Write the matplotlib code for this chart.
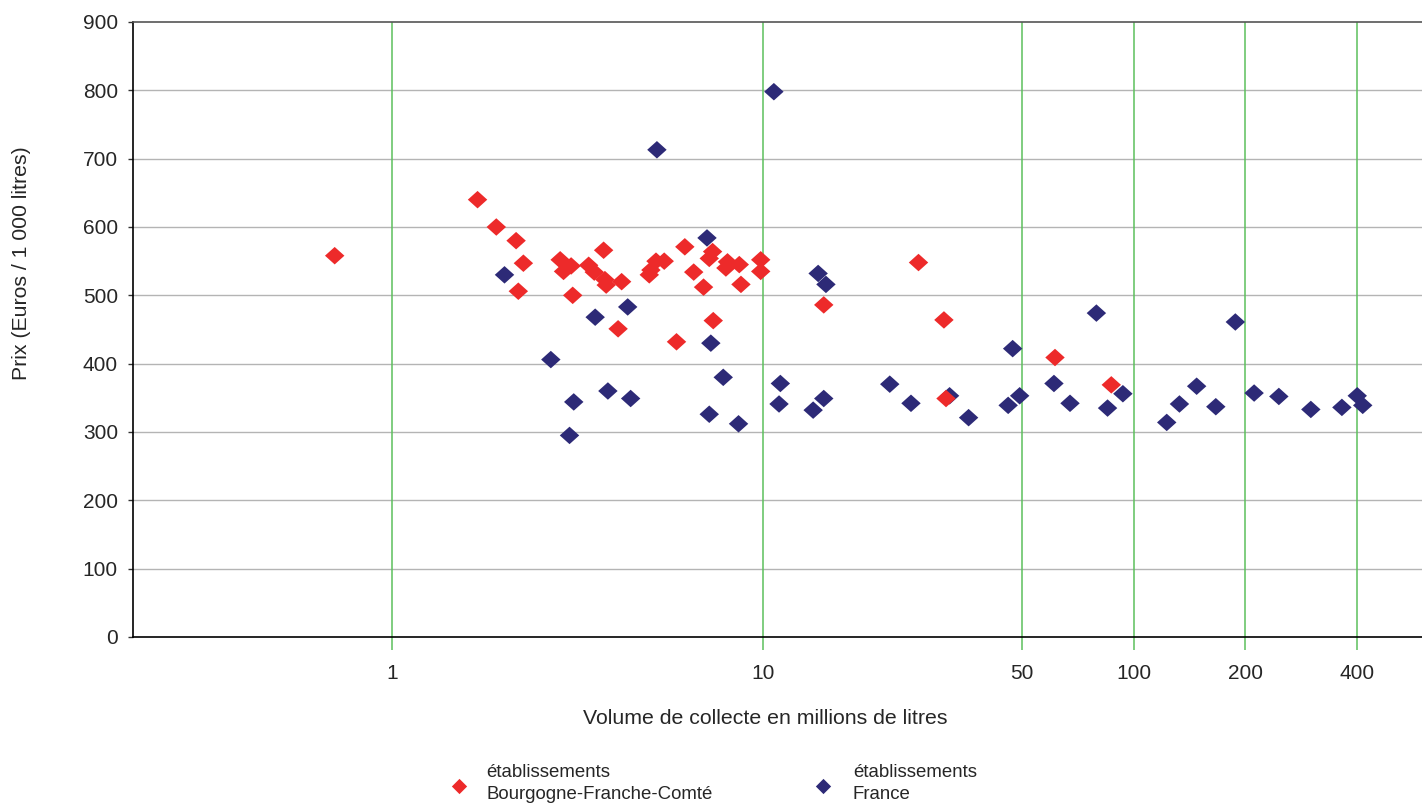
import matplotlib
matplotlib.use("Agg")
import matplotlib.pyplot as plt
from matplotlib.lines import Line2D
from matplotlib.ticker import FixedLocator, FixedFormatter, NullLocator

plt.rcParams['font.family'] = ['Liberation Sans', 'DejaVu Sans']

# ---- data ----
bfc_volume = [0.70, 1.70, 1.91, 2.16, 2.26, 2.19, 2.84, 3.04, 2.90, 3.07,
              3.39, 3.51, 3.72, 3.75, 3.78, 4.16, 4.07, 5.15, 5.42, 4.99,
              4.94, 6.16, 6.51, 7.32, 7.17, 6.92, 8.03, 7.95, 8.64, 8.73,
              9.87, 9.87, 7.35, 5.85, 14.6, 26.3, 30.8, 31.2, 61.4, 87.1]
bfc_price = [558, 640, 600, 580, 547, 506, 552, 543, 535, 500,
             544, 534, 566, 523, 515, 520, 451, 550, 550, 537,
             530, 571, 534, 564, 554, 512, 549, 540, 545, 516,
             552, 535, 463, 432, 486, 548, 464, 349, 409, 369]

fr_volume = [7.07, 2.01, 4.32, 3.53, 2.68, 7.24, 7.82, 11.15, 11.06, 3.09,
             3.82, 4.40, 7.17, 8.60, 3.01, 5.18, 10.71, 14.10, 14.80, 13.67,
             14.60, 22.0, 25.1, 31.9, 35.9, 45.9, 49.3, 47.2, 61.0, 67.4,
             85.1, 93.6, 79.4, 122.9, 133.0, 148.0, 166.7, 188.2, 211.5, 246.6,
             300.8, 364.8, 401.3, 415.2]
fr_price = [584, 530, 483, 468, 406, 430, 380, 371, 341, 344,
            360, 349, 326, 312, 295, 713, 798, 532, 516, 332,
            349, 370, 342, 353, 321, 339, 353, 422, 371, 342,
            335, 356, 474, 314, 341, 367, 337, 461, 357, 352,
            333, 336, 353, 339]

x_ticks = [1, 10, 50, 100, 200, 400]
x_ticklabels = ["1", "10", "50", "100", "200", "400"]
y_ticks = [0, 100, 200, 300, 400, 500, 600, 700, 800, 900]

legend_labels = ["établissements\nBourgogne-Franche-Comté", "établissements\nFrance"]

RED = '#ED2A2A'
BLUE = '#2D2A77'
GREEN = '#5CC05C'
GRID = '#B4B4B4'
TXT = '#262626'
FS_TICK = 15
FS_LABEL = 15.3
FS_LEG = 13.4

diamond = [(-1.0, 0.0), (0.0, 0.9), (1.0, 0.0), (0.0, -0.9), (-1.0, 0.0)]
sq_diamond = [(-1.0, 0.0), (0.0, 1.0), (1.0, 0.0), (0.0, -1.0), (-1.0, 0.0)]

W, H = 1422, 806
fig = plt.figure(figsize=(W / 100, H / 100), dpi=100)
ax = fig.add_axes([133 / W, 1 - 637 / H, 1 - 133 / W, (637 - 22) / H])

ax.set_xscale('log')
ax.set_xlim(0.2, 600)
ax.set_ylim(0, 900)

# grid
for yv in y_ticks[1:-1]:
    ax.axhline(yv, color=GRID, lw=1.0, zorder=1)
for xv in x_ticks:
    ax.axvline(xv, color=GREEN, lw=1.1, zorder=1)

ax.scatter(fr_volume, fr_price, marker=diamond, s=14 ** 2, color=BLUE,
           edgecolors='none', zorder=3)
ax.scatter(bfc_volume, bfc_price, marker=diamond, s=14 ** 2, color=RED,
           edgecolors='none', zorder=4)

ax.xaxis.set_major_locator(FixedLocator(x_ticks))
ax.xaxis.set_major_formatter(FixedFormatter(x_ticklabels))
ax.xaxis.set_minor_locator(NullLocator())
ax.set_yticks(y_ticks)

ax.tick_params(axis='x', which='major', length=9.5, width=1.1, color=GREEN,
               pad=10, labelsize=FS_TICK, labelcolor=TXT)
ax.tick_params(axis='y', length=3.8, width=1.0, color='#333333',
               pad=7, labelsize=FS_TICK, labelcolor=TXT)

ax.spines['right'].set_visible(False)
ax.spines['top'].set_color('#555555')
ax.spines['top'].set_linewidth(1.2)
ax.spines['left'].set_color('black')
ax.spines['left'].set_linewidth(1.2)
ax.spines['bottom'].set_color('black')
ax.spines['bottom'].set_linewidth(1.2)
ax.set_facecolor('white')

fig.text(765 / W, 1 - 719 / H, "Volume de collecte en millions de litres",
         ha='center', va='center', fontsize=FS_LABEL, color=TXT)
fig.text(22 / W, 1 - 263 / H, "Prix (Euros / 1 000 litres)", rotation=90,
         ha='center', va='center', fontsize=FS_LABEL, color=TXT)

# legend
for (mx, tx, col, lab) in [(459, 486, RED, legend_labels[0]),
                           (823, 853, BLUE, legend_labels[1])]:
    fig.add_artist(Line2D([mx / W], [1 - 785.5 / H], transform=fig.transFigure,
                          marker=sq_diamond, markersize=11, color=col,
                          markeredgewidth=0, linestyle='none'))
    fig.text(tx / W, 1 - 783.5 / H, lab, ha='left', va='center', fontsize=FS_LEG,
             color=TXT, linespacing=1.32)

fig.savefig('out.png', dpi=100, facecolor='white')
